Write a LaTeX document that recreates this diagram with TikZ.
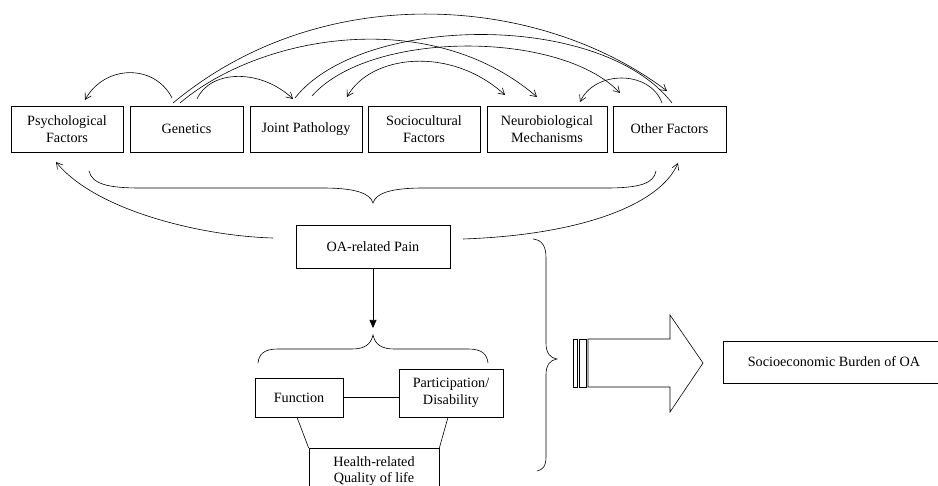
\documentclass[tikz,border=0pt]{standalone}
\usepackage{fontspec}
\setmainfont{Liberation Serif}
\usetikzlibrary{arrows.meta,calc}
\begin{document}
\begin{tikzpicture}[x=1pt,y=-1pt,
  box/.style={draw,line width=0.7pt,align=center,font=\fontsize{14.2}{16.6}\selectfont,inner sep=0pt},
  conn/.style={line width=0.6pt},
  barb/.style={conn,-{Straight Barb[angle=60:7pt]}},
  dbarb/.style={conn,{Straight Barb[angle=60:7pt]}-{Straight Barb[angle=60:7pt]}},
  tri/.style={conn,-{Triangle[length=8pt,width=7pt]}},
]
\useasboundingbox (0,0) rectangle (938,486);
\clip (0,0) rectangle (938,486);
% top row
\node[box,minimum width=112pt,minimum height=46pt] (psych) at (67,129) {Psychological\\Factors};
\node[box,minimum width=113pt,minimum height=46pt] (gen) at (186.5,129) {Genetics};
\node[box,minimum width=112pt,minimum height=46pt] (jp) at (306,129) {Joint Pathology};
\node[box,minimum width=112pt,minimum height=46pt] (soc) at (424,129) {Sociocultural\\Factors};
\node[box,minimum width=120pt,minimum height=46pt] (neuro) at (547,129) {Neurobiological\\Mechanisms};
\node[box,minimum width=113pt,minimum height=46pt] (other) at (669.5,129) {Other Factors};
% middle
\node[box,minimum width=154pt,minimum height=43pt] (pain) at (373,246.5) {OA-related Pain};
\node[box,minimum width=88pt,minimum height=39pt] (func) at (299,397.5) {Function};
\node[box,minimum width=104pt,minimum height=48pt] (part) at (451,393) {Participation/\\Disability};
\node[box,minimum width=130pt,anchor=north,inner ysep=4pt,text height=30.6pt,text depth=24pt] (health) at (374,448) {Health-related\\Quality of life};
\node[box,minimum width=222pt,minimum height=42pt] (seb) at (834,362) {Socioeconomic Burden of OA};

% coordinates for arc ends
\coordinate (g1) at (172,98);  \coordinate (p1) at (85,100);
\coordinate (g2) at (197,99);  \coordinate (j1) at (293,99);
\coordinate (g3) at (173,103); \coordinate (o1) at (667,91);
\coordinate (g4) at (180,103); \coordinate (n1) at (537,97);
\coordinate (j2) at (295,98);  \coordinate (o2) at (672,103);
\coordinate (j3) at (312,96);  \coordinate (o3) at (620,93);
\coordinate (j4) at (347,97);  \coordinate (n2) at (505,95);
\coordinate (o4) at (662,103); \coordinate (n3) at (580,102);
\coordinate (pl) at (273,238); \coordinate (pp) at (56,162);
\coordinate (pr) at (463,239); \coordinate (po) at (678,163);
\coordinate (tipA) at (373,203);
\coordinate (tipB) at (373,335);
\coordinate (arrEnd) at (373,328);
\coordinate (tipC) at (557,359);

% top arcs
\draw[barb] (g1) .. controls (155,64) and (105,64) .. (p1);
\draw[barb] (g2) .. controls (210,70) and (260,68) .. (j1);
\draw[barb] (g3) .. controls (323,-22) and (540,-5) .. (o1);
\draw[barb] (g4) .. controls (260,35) and (430,5) .. (n1);
\draw[conn] (j2) .. controls (360,15) and (600,10) .. (o2);
\draw[barb] (j3) .. controls (370,30) and (560,30) .. (o3);
\draw[dbarb] (j4) .. controls (370,55) and (450,45) .. (n2);
\draw[barb] (o4) .. controls (650,70) and (595,70) .. (n3);

% top brace
\draw[conn] (89,171) .. controls (92,184) and (108,188) .. (140,188) -- (322,188)
  .. controls (355,188) and (370,193) .. (tipA)
  .. controls (376,193) and (391,188) .. (424,188) -- (606,188)
  .. controls (638,188) and (654,184) .. (656,171);

% arcs from pain
\draw[barb] (pl) .. controls (200,236) and (95,210) .. (pp);
\draw[barb] (pr) .. controls (580,235) and (660,205) .. (po);

% pain down arrow
\draw[tri] (pain.south) -- (arrEnd);

% lower brace
\draw[conn] (258,363) .. controls (259,354) and (264,349) .. (278,349) -- (352,349)
  .. controls (365,349) and (371,344) .. (tipB)
  .. controls (375,344) and (381,349) .. (394,349) -- (468,349)
  .. controls (482,349) and (487,354) .. (488,363);

% function/participation/health
\draw[conn] (func.east) -- (part.west |- func.east);
\draw[conn] ([xshift=-2pt]func.south) -- (health.north west);
\draw[conn] ([xshift=-3pt]part.south) -- (health.north east);

% big right brace
\draw[conn] (533,239) .. controls (542,240) and (546,246) .. (546,258) -- (546,343)
  .. controls (546,353) and (550,358) .. (tipC)
  .. controls (550,360) and (546,365) .. (546,375) -- (546,457)
  .. controls (546,467) and (542,470) .. (537,471);

% block arrow
\draw[conn] (588,339) -- (670,339) -- (670,315) -- (703,363) -- (670,412) -- (670,387) -- (588,387) -- cycle;
\draw[conn] (573,339) rectangle (577,387);
\draw[conn] (579,339) rectangle (586,387);
\end{tikzpicture}
\end{document}
